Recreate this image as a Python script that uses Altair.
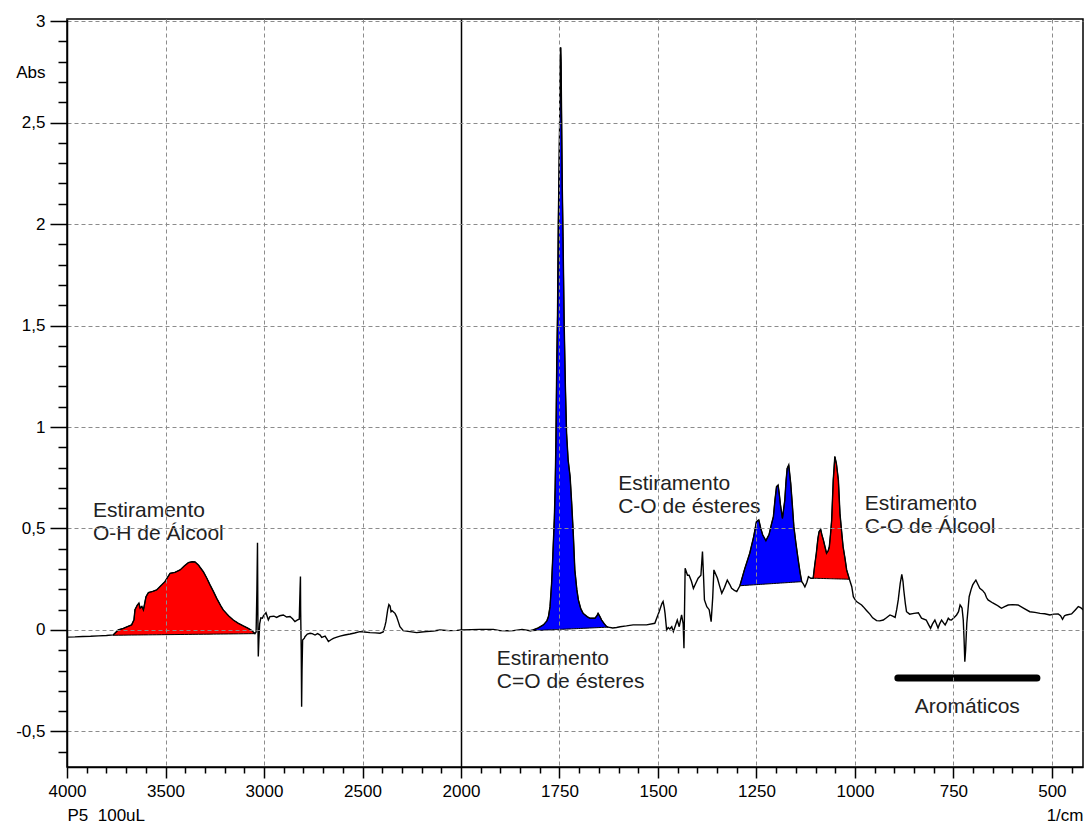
import altair as alt
import pandas as pd

# ---------------- spectrum (wavenumber in 1/cm, absorbance) ----------------
wn_a = [4000, 3960, 3920, 3880, 3840, 3800, 3765, 3740, 3714, 3690,
        3672, 3660, 3655, 3643, 3635, 3629, 3620, 3612, 3599, 3587,
        3565, 3545, 3520, 3503, 3477, 3452, 3426, 3405, 3384, 3365,
        3350, 3333, 3308, 3290, 3274, 3257, 3240, 3220, 3207, 3180,
        3156, 3130, 3105, 3080, 3062, 3046, 3040, 3036, 3033, 3031,
        3029, 3026, 3022, 3016, 3008, 3003, 2990, 2978, 2970, 2950,
        2936, 2920, 2902, 2885, 2868, 2855, 2843, 2830, 2821, 2817,
        2815, 2814, 2811, 2809, 2807, 2804, 2795, 2792, 2780, 2766,
        2755, 2741, 2728, 2715, 2707, 2690, 2680, 2673, 2660, 2648,
        2630, 2614, 2590, 2563, 2540, 2513, 2490, 2462, 2435, 2411,
        2395, 2386, 2381, 2372, 2366, 2360, 2355, 2350, 2344, 2335,
        2327, 2318, 2310, 2293, 2260, 2225, 2200, 2175, 2140, 2107,
        2060, 2020]
ab_a = [-0.035, -0.034, -0.032, -0.031, -0.029, -0.027, -0.024, 0.000, 0.008, 0.018,
        0.025, 0.050, 0.100, 0.123, 0.133, 0.108, 0.116, 0.099, 0.164, 0.184,
        0.190, 0.197, 0.222, 0.238, 0.279, 0.284, 0.296, 0.315, 0.332, 0.336,
        0.335, 0.320, 0.287, 0.255, 0.222, 0.190, 0.156, 0.120, 0.099, 0.070,
        0.049, 0.033, 0.020, 0.008, -0.003, -0.018, -0.010, 0.200, 0.430, 0.050,
        -0.130, -0.050, 0.030, 0.060, 0.058, 0.070, 0.085, 0.050, 0.066, 0.068,
        0.062, 0.070, 0.074, 0.064, 0.066, 0.055, 0.041, 0.050, 0.053, 0.200,
        0.263, 0.100, -0.100, -0.378, -0.200, -0.050, -0.040, -0.033, -0.020, -0.016,
        -0.018, -0.025, -0.018, -0.025, -0.036, -0.030, -0.045, -0.057, -0.048, -0.041,
        -0.035, -0.030, -0.025, -0.020, -0.015, -0.008, -0.010, -0.013, -0.014, -0.016,
        -0.010, 0.020, 0.041, 0.100, 0.125, 0.118, 0.090, 0.095, 0.090, 0.082,
        0.066, 0.040, 0.016, -0.003, -0.008, -0.013, -0.010, -0.008, -0.005, 0.000,
        -0.003, -0.002]

wn_b = [2000, 1975, 1952, 1918, 1901, 1880, 1867, 1845, 1825, 1817,
        1804, 1791, 1782, 1778, 1774, 1770, 1767, 1763, 1761, 1759,
        1757, 1755, 1753, 1751, 1749, 1748, 1747, 1746, 1745, 1743,
        1741, 1738, 1735, 1732, 1728, 1723, 1719, 1715, 1711, 1706,
        1702, 1696, 1690, 1680, 1673, 1660, 1655, 1652, 1647, 1643,
        1636, 1630, 1626, 1615, 1605, 1596, 1580, 1563, 1546, 1529,
        1508, 1497, 1490, 1487, 1484, 1482, 1478, 1474, 1470, 1465,
        1461, 1456, 1451, 1446, 1440, 1436, 1434, 1431, 1425, 1421,
        1415, 1410, 1404, 1398, 1391, 1387, 1384, 1382, 1376, 1370,
        1365, 1361, 1358, 1349, 1344, 1338, 1331, 1324, 1318, 1313,
        1306]
ab_b = [0.000, 0.002, 0.003, 0.003, -0.003, -0.004, -0.003, 0.003, -0.004, 0.000,
        0.010, 0.025, 0.045, 0.066, 0.115, 0.230, 0.361, 0.550, 0.700, 0.936,
        1.300, 1.550, 2.000, 2.280, 2.600, 2.800, 2.870, 2.800, 2.600, 2.200,
        1.940, 1.500, 1.200, 0.969, 0.837, 0.755, 0.624, 0.476, 0.296, 0.200,
        0.148, 0.105, 0.082, 0.066, 0.058, 0.058, 0.070, 0.082, 0.065, 0.049,
        0.030, 0.016, 0.014, 0.010, 0.012, 0.016, 0.020, 0.025, 0.025, 0.025,
        0.033, 0.090, 0.130, 0.140, 0.110, 0.082, 0.000, 0.012, 0.005, 0.016,
        -0.008, 0.020, 0.049, 0.016, 0.074, 0.030, -0.090, 0.304, 0.270, 0.270,
        0.240, 0.205, 0.230, 0.255, 0.270, 0.386, 0.250, 0.148, 0.115, 0.100,
        0.041, 0.160, 0.296, 0.255, 0.220, 0.181, 0.210, 0.246, 0.225, 0.205,
        0.195]

wn_c = [1300, 1292, 1280, 1267, 1257, 1250, 1244, 1239, 1234, 1226,
        1218, 1212, 1207, 1203, 1199, 1195, 1192, 1189, 1184, 1178,
        1175, 1172, 1168, 1163, 1159, 1155, 1150, 1144, 1139, 1135,
        1131, 1127, 1122, 1118, 1112, 1106, 1102, 1098, 1094, 1091,
        1087, 1084, 1080, 1076, 1072, 1068, 1065, 1062, 1059, 1055,
        1051, 1047, 1042, 1038, 1034, 1030, 1025, 1021, 1014, 1008,
        1004, 1000, 996, 983, 979, 970, 962, 955, 945, 937,
        928, 920, 911, 904, 898, 894, 890, 885, 881, 878,
        876, 872, 869, 861, 850, 839, 831, 819, 814, 808,
        803, 797, 793, 789, 785, 780, 775, 771, 767, 763,
        759, 755, 748, 742, 737, 733, 730, 728, 725, 723,
        721, 719, 716, 713, 710, 705, 701, 697, 693, 688,
        683, 676, 670, 666, 662, 650, 640, 634, 628, 620,
        611, 600, 586, 570, 556, 543, 530, 518, 505, 495,
        484, 478, 473, 468, 463, 450, 440, 433, 427, 420,
        412, 404]
ab_c = [0.189, 0.218, 0.300, 0.378, 0.460, 0.534, 0.542, 0.500, 0.468, 0.440,
        0.470, 0.520, 0.558, 0.640, 0.706, 0.714, 0.670, 0.616, 0.550, 0.640,
        0.730, 0.796, 0.813, 0.723, 0.620, 0.509, 0.430, 0.345, 0.280, 0.238,
        0.227, 0.212, 0.235, 0.263, 0.255, 0.255, 0.320, 0.378, 0.450, 0.484,
        0.496, 0.470, 0.443, 0.410, 0.378, 0.390, 0.410, 0.470, 0.542, 0.739,
        0.854, 0.820, 0.739, 0.575, 0.490, 0.410, 0.350, 0.296, 0.250, 0.213,
        0.164, 0.151, 0.140, 0.123, 0.115, 0.095, 0.078, 0.060, 0.046, 0.045,
        0.049, 0.060, 0.074, 0.068, 0.062, 0.100, 0.148, 0.230, 0.274, 0.240,
        0.197, 0.130, 0.090, 0.078, 0.082, 0.085, 0.058, 0.049, 0.030, 0.008,
        0.030, 0.049, 0.030, 0.010, 0.030, 0.049, 0.035, 0.025, 0.040, 0.058,
        0.050, 0.049, 0.062, 0.074, 0.090, 0.123, 0.115, 0.107, 0.050, -0.041,
        -0.156, -0.100, 0.033, 0.100, 0.164, 0.200, 0.222, 0.235, 0.246, 0.225,
        0.205, 0.195, 0.181, 0.160, 0.148, 0.133, 0.123, 0.115, 0.107, 0.115,
        0.123, 0.125, 0.123, 0.105, 0.090, 0.087, 0.082, 0.080, 0.074, 0.078,
        0.079, 0.070, 0.053, 0.070, 0.074, 0.079, 0.100, 0.115, 0.110, 0.099,
        0.080, 0.066]

# ---------------- highlighted bands (straight baseline under each) ----------------
band_start = [3765, 1825, 1292, 1106]
band_end = [3046, 1626, 1135, 1014]
band_base_start = [-0.026, -0.004, 0.218, 0.255]
band_base_end = [-0.018, 0.014, 0.238, 0.250]
band_group = ["Álcool", "Éster", "Éster", "Álcool"]
group_names = ["Álcool", "Éster"]
group_colors = ["#ff0000", "#0000ff"]

# ---------------- annotations (first-line baseline position) ----------------
ann_text = ["Estiramento\nO-H de Álcool",
            "Estiramento\nC=O de ésteres",
            "Estiramento\nC-O de ésteres",
            "Estiramento\nC-O de Álcool",
            "Aromáticos"]
ann_wn = [3868, 1909, 1601, 975, 848]
ann_ab = [0.557, -0.172, 0.690, 0.591, -0.409]

arom_wn_start = [891]
arom_wn_end = [538]
arom_ab = [-0.236]

# ---------------- axis ticks ----------------
x_major_ticks = [4000, 3500, 3000, 2500, 2000, 1750, 1500, 1250, 1000, 750, 500]
x_minor_ticks = [3900, 3800, 3700, 3600, 3400, 3300, 3200, 3100, 2900, 2800,
                 2700, 2600, 2400, 2300, 2200, 2100, 1950, 1900, 1850, 1800,
                 1700, 1650, 1600, 1550, 1450, 1400, 1350, 1300, 1200, 1150,
                 1100, 1050, 950, 900, 850, 800, 700, 650, 600, 550, 450]
y_major_ticks = [3, 2.5, 2, 1.5, 1, 0.5, 0, -0.5]
y_minor_ticks = [2.9, 2.8, 2.7, 2.6, 2.4, 2.3, 2.2, 2.1, 1.9, 1.8, 1.7, 1.6,
                 1.4, 1.3, 1.2, 1.1, 0.9, 0.8, 0.7, 0.6, 0.4, 0.3, 0.2, 0.1,
                 -0.1, -0.2, -0.3, -0.4, -0.6]

# ---------------- build ----------------
spec = pd.DataFrame({"wn": wn_a + wn_b + wn_c, "ab": ab_a + ab_b + ab_c})
ann = pd.DataFrame({"label": ann_text, "wn": ann_wn, "ab": ann_ab})
arom = pd.DataFrame({"w1": arom_wn_start, "w2": arom_wn_end, "ab": arom_ab})

W, H = 1016, 748
FONT = "Liberation Sans"
xscale = alt.Scale(domain=[4000, 2000, 421], range=[0, 394, W], nice=False, zero=False)
yscale = alt.Scale(domain=[-0.675, 3.01], nice=False, zero=False)
is2000 = "datum.value === 2000"

x_major = alt.Axis(
    values=x_major_ticks, format="d", orient="bottom", zindex=1,
    grid=True,
    gridColor={"condition": {"test": is2000, "value": "black"}, "value": "#8c8c8c"},
    gridDash={"condition": {"test": is2000, "value": []}, "value": [4, 3]},
    gridWidth={"condition": {"test": is2000, "value": 1.5}, "value": 1},
    tickSize=11, tickWidth=1.5, tickColor="black",
    domainColor="black", domainWidth=1.5,
    labelFont=FONT, labelFontSize=17, labelColor="black", labelPadding=5,
    labelFlush=False, labelOverlap=False,
    title="P5\u00a0\u00a0100uL", titleX=0, titleY=53, titleAlign="left",
    titleBaseline="alphabetic", titleFont=FONT, titleFontSize=17,
    titleFontWeight="normal", titleColor="black",
)
x_minor = alt.Axis(
    values=x_minor_ticks, orient="bottom", grid=False, labels=False, domain=False,
    tickSize=6, tickWidth=1.5, tickColor="black",
    title="1/cm", titleX=W, titleY=53, titleAlign="right", titleBaseline="alphabetic",
    titleFont=FONT, titleFontSize=17, titleFontWeight="normal", titleColor="black",
)
y_major = alt.Axis(
    values=y_major_ticks, orient="left", zindex=1,
    labelExpr="replace(toString(datum.value), '.', ',')",
    grid=True, gridColor="#8c8c8c", gridDash=[4, 3], gridWidth=1,
    tickSize=17, tickWidth=1.5, tickColor="black",
    domainColor="black", domainWidth=1.5,
    labelFont=FONT, labelFontSize=17, labelColor="black", labelPadding=5,
    labelFlush=False, labelOverlap=False,
    title="Abs", titleAngle=0, titleAlign="right", titleBaseline="middle",
    titleX=-22, titleY=53, titleFont=FONT, titleFontSize=17,
    titleFontWeight="normal", titleColor="black",
)
y_minor = alt.Axis(
    values=y_minor_ticks, orient="left", grid=False, labels=False, domain=False,
    tickSize=9, tickWidth=1.5, tickColor="black", title=None,
)

base = alt.Chart(spec)

area_layers = []
for s, e, b0, b1, g in zip(band_start, band_end, band_base_start, band_base_end, band_group):
    col = group_colors[group_names.index(g)]
    area_layers.append(
        base.transform_filter(f"datum.wn <= {s} && datum.wn >= {e}")
        .transform_calculate(baseline=f"{b0} + ({b1} - ({b0})) * ({s} - datum.wn) / ({s} - {e})")
        .mark_area(color=col, stroke="black", strokeWidth=1, opacity=1)
        .encode(
            x=alt.X("wn:Q", scale=xscale, axis=None),
            y=alt.Y("ab:Q", scale=yscale, axis=None),
            y2="baseline:Q",
        )
    )

line = base.mark_line(color="black", strokeWidth=1.4, clip=True).encode(
    x=alt.X("wn:Q", scale=xscale, axis=x_major),
    y=alt.Y("ab:Q", scale=yscale, axis=y_major),
)

bar = alt.Chart(arom).mark_rule(color="black", strokeWidth=7, strokeCap="round").encode(
    x=alt.X("w1:Q", scale=xscale, axis=x_minor),
    x2="w2:Q",
    y=alt.Y("ab:Q", scale=yscale, axis=y_minor),
)

texts = alt.Chart(ann).mark_text(
    align="left", baseline="alphabetic", font=FONT, fontSize=21, color="#222222",
    lineBreak="\n", lineHeight=23,
).encode(
    x=alt.X("wn:Q", scale=xscale, axis=None),
    y=alt.Y("ab:Q", scale=yscale, axis=None),
    text="label:N",
)

chart = (
    alt.layer(*area_layers, line, bar, texts)
    .resolve_axis(x="independent", y="independent")
    .properties(
        width=W, height=H,
        autosize=alt.AutoSizeParams(type="none"),
        padding={"left": 59, "top": 11, "right": 1, "bottom": 57},
        background="white",
    )
    .configure_view(stroke="black", strokeWidth=1.5)
)

chart.save("out.html", embed_options={"renderer": "svg", "actions": False})
